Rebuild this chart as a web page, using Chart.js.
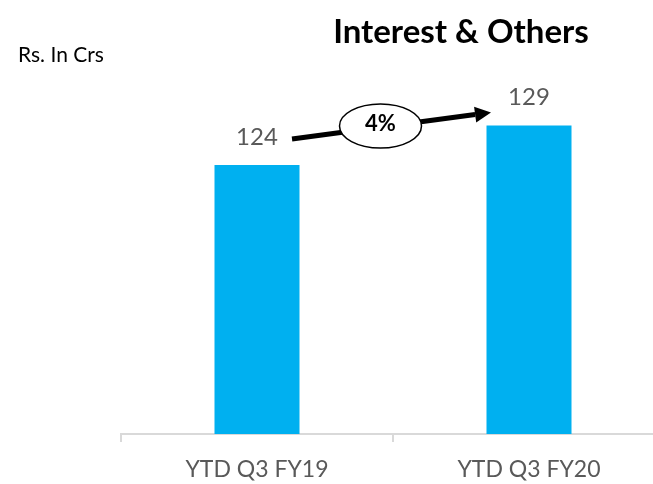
<!DOCTYPE html>
<html>
<head>
<meta charset="utf-8">
<script src="https://cdn.jsdelivr.net/npm/chart.js@4"></script>
<style>
  html, body { margin: 0; padding: 0; background: #fff; overflow: hidden; }
  #wrap { position: relative; width: 680px; height: 484px; }
</style>
</head>
<body>
<div id="wrap"><canvas id="myChart"></canvas></div>
<script>
const labels = ['YTD Q3 FY19', 'YTD Q3 FY20'];
const values = [124, 129];
const growth = '4%';
const chartTitle = 'Interest & Others';
const unitText = 'Rs. In Crs';

const FONT = 'Lato, "Open Sans", sans-serif';

// title, unit note, value labels and the growth arrow
const extras = {
  id: 'extras',
  afterDatasetsDraw(chart) {
    const ctx = chart.ctx;
    const meta = chart.getDatasetMeta(0);
    ctx.save();

    ctx.fillStyle = '#000';
    ctx.textAlign = 'center';
    ctx.textBaseline = 'middle';
    ctx.font = 'bold 33px ' + FONT;
    ctx.fillText(chartTitle, 461, 32);

    ctx.textAlign = 'left';
    ctx.font = '21px ' + FONT;
    ctx.fillText(unitText, 18, 55);

    ctx.fillStyle = '#595959';
    ctx.textAlign = 'center';
    ctx.textBaseline = 'bottom';
    ctx.font = '24px ' + FONT;
    meta.data.forEach((bar, i) => {
      ctx.fillText(values[i], bar.x, bar.y - 16);
    });

    // arrow between the two value labels
    const b0 = meta.data[0], b1 = meta.data[1];
    const x0 = b0.x + 35, y0 = b0.y - 26;
    const x1 = b1.x - 38, y1 = b1.y - 13;
    ctx.strokeStyle = '#000';
    ctx.fillStyle = '#000';
    ctx.lineWidth = 5;
    ctx.beginPath();
    ctx.moveTo(x0, y0);
    const ang = Math.atan2(y1 - y0, x1 - x0);
    const hx = x1 - 16 * Math.cos(ang), hy = y1 - 16 * Math.sin(ang);
    ctx.lineTo(hx, hy);
    ctx.stroke();
    ctx.beginPath();
    ctx.moveTo(x1, y1);
    ctx.lineTo(hx + 8 * Math.sin(ang), hy - 8 * Math.cos(ang));
    ctx.lineTo(hx - 8 * Math.sin(ang), hy + 8 * Math.cos(ang));
    ctx.closePath();
    ctx.fill();

    const cx = (x0 + x1) / 2 - 11, cy = 126;
    ctx.beginPath();
    ctx.ellipse(cx, cy, 41, 22, 0, 0, Math.PI * 2);
    ctx.fillStyle = '#fff';
    ctx.fill();
    ctx.lineWidth = 1.5;
    ctx.stroke();
    ctx.fillStyle = '#000';
    ctx.textBaseline = 'middle';
    ctx.font = 'bold 22px ' + FONT;
    ctx.fillText(growth, cx, cy - 2);

    ctx.restore();
  }
};

new Chart(document.getElementById('myChart'), {
  type: 'bar',
  data: {
    labels: labels,
    datasets: [{
      data: values,
      backgroundColor: '#00B0F0',
      barPercentage: 0.625,
      categoryPercentage: 0.5
    }]
  },
  options: {
    responsive: true,
    maintainAspectRatio: false,
    animation: false,
    layout: { padding: { left: 121, right: 15, top: 78, bottom: 0 } },
    plugins: { legend: { display: false }, tooltip: { enabled: false } },
    scales: {
      x: {
        afterFit(scale) { scale.height = 50; },
        grid: {
          offset: true,
          drawOnChartArea: false,
          color: '#d9d9d9',
          tickLength: 8,
          lineWidth: 2
        },
        border: { color: '#d9d9d9', width: 2 },
        ticks: { color: '#595959', font: { family: FONT, size: 23 }, padding: 14 }
      },
      y: {
        display: false,
        min: 90,
        max: 135,
        afterFit(scale) { scale.width = 0; }
      }
    }
  },
  plugins: [extras]
});
</script>
</body>
</html>
